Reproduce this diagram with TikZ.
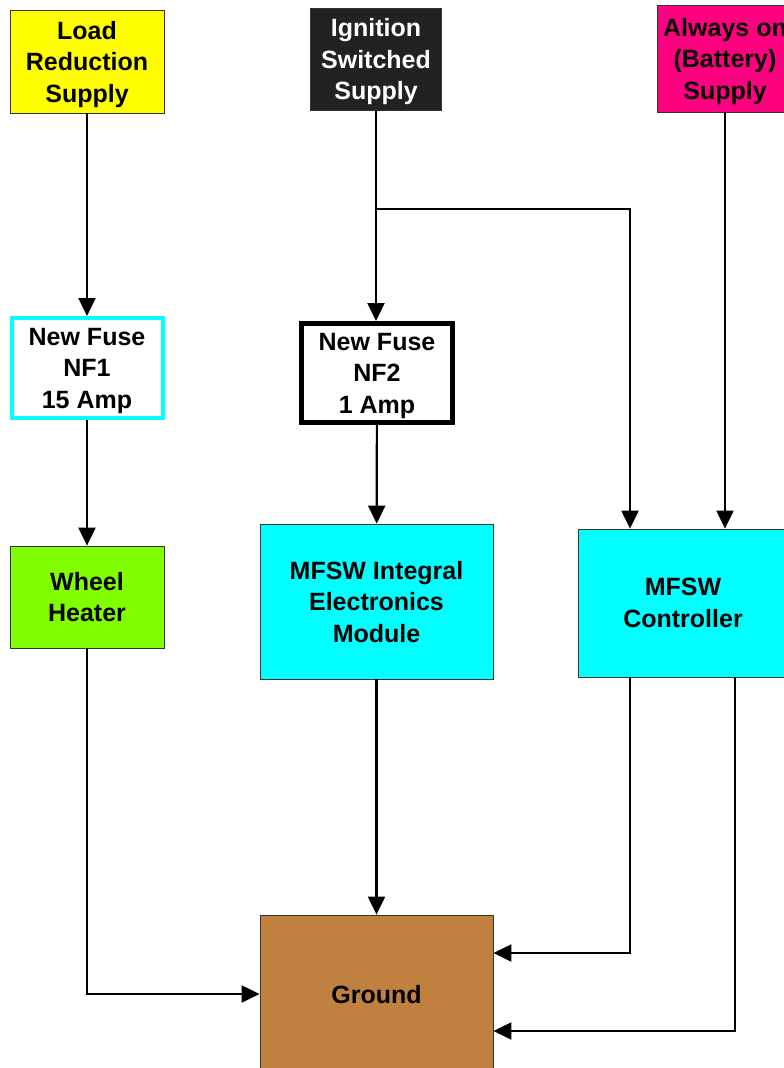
\documentclass[tikz,border=0pt]{standalone}
\usepackage{fontspec}
\setmainfont{Liberation Sans}
\usetikzlibrary{positioning,arrows.meta}
\definecolor{LoadYellow}{HTML}{FFFF00}
\definecolor{IgnBlack}{HTML}{222222}
\definecolor{BattPink}{HTML}{FF0080}
\definecolor{FuseCyan}{HTML}{00FFFF}
\definecolor{HeatGreen}{HTML}{80FF00}
\definecolor{GndBrown}{HTML}{C08040}
\begin{document}
\begin{tikzpicture}[x=1pt,y=-1pt,>={Triangle[length=18pt,width=17pt]},
  box/.style={draw=black!80,line width=.8pt,inner sep=0pt,align=center,text depth=-3pt,
    font=\bfseries\fontsize{25}{31.5}\selectfont},
  wire/.style={->,line width=2.2pt}]
  \path[use as bounding box] (0,0) rectangle (784,1068);
  \clip (0,0) rectangle (784,1068);
  % supplies
  \node[box,fill=LoadYellow,minimum width=154pt,minimum height=103pt] (load) at (87,61.5) {Load\\Reduction\\Supply};
  \node[box,fill=IgnBlack,text=white,minimum width=131pt,minimum height=102pt] (ign) at (376,59) {Ignition\\Switched\\Supply};
  \node[box,fill=BattPink,minimum width=136pt,minimum height=107pt] (bat) at (725,58.5) {Always on\\(Battery)\\Supply};
  % fuses
  \node[box,draw=FuseCyan,line width=4pt,fill=white,minimum width=151pt,minimum height=100pt] (nf1) at (87,368) {New Fuse\\NF1\\15 Amp};
  \node[box,draw=black,line width=5pt,fill=white,minimum width=151pt,minimum height=99pt] (nf2) at (377,373) {New Fuse\\NF2\\1 Amp};
  % loads
  \node[box,fill=HeatGreen,minimum width=154pt,minimum height=102pt] (heat) at (87,597) {Wheel\\Heater};
  \node[box,fill=FuseCyan,minimum width=233pt,minimum height=155pt] (iem) at (376.5,601.5) {MFSW Integral\\Electronics\\Module};
  \node[box,fill=FuseCyan,minimum width=210pt,minimum height=148pt] (ctrl) at (683,603) {MFSW\\Controller};
  \node[box,fill=GndBrown,minimum width=233pt,minimum height=158pt] (gnd) at (376.5,994) {Ground};
  \coordinate (split) at (376,209);
  % wires
  \draw[wire] (load) -- (nf1);
  \draw[wire] (nf1) -- (heat);
  \draw[line width=2.2pt] (ign) -- (split);
  \draw[wire] (split) -- (split |- nf2.north);
  \draw[wire] (split) -| ([xshift=-53pt]ctrl.north);
  \draw[wire] (bat.south) -- (bat.south |- ctrl.north);
  \draw[wire] (nf2) -- (iem);
  \draw[wire] (iem) -- (gnd);
  \draw[wire] (heat.south) |- (gnd.west);
  \draw[wire] ([xshift=-53pt]ctrl.south) |- ([yshift=41pt]gnd.east);
  \draw[wire] ([xshift=52pt]ctrl.south) |- ([yshift=-37pt]gnd.east);
\end{tikzpicture}
\end{document}
